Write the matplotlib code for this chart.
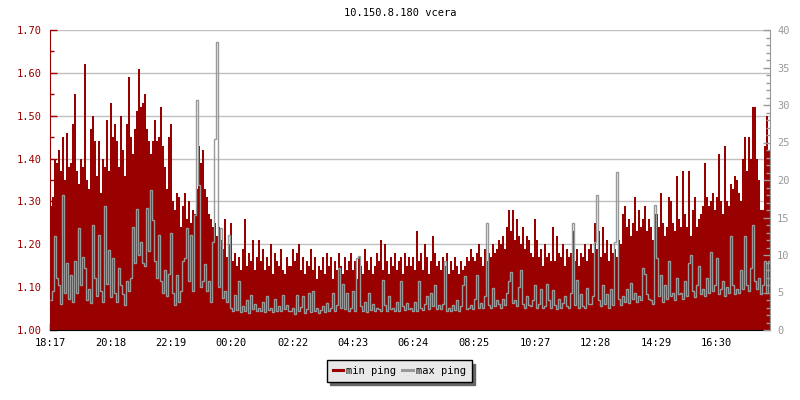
import numpy as np
import matplotlib
matplotlib.use("Agg")
import matplotlib.pyplot as plt
from matplotlib.lines import Line2D
from matplotlib.ticker import MultipleLocator, FormatStrFormatter

# ping samples, one every 4 minutes starting 18:17 (15 per hour)
min_ping = [
    1.29, 1.31, 1.40, 1.39, 1.42, 1.37, 1.45, 1.35, 1.46, 1.38, 1.39, 1.48, 1.55, 1.37, 1.34,
    1.40, 1.38, 1.62, 1.35, 1.33, 1.47, 1.50, 1.44, 1.36, 1.44, 1.32, 1.40, 1.38, 1.49, 1.37,
    1.53, 1.45, 1.48, 1.44, 1.38, 1.50, 1.42, 1.36, 1.48, 1.59, 1.45, 1.41, 1.47, 1.51, 1.61,
    1.52, 1.53, 1.55, 1.47, 1.44, 1.41, 1.44, 1.49, 1.44, 1.45, 1.52, 1.43, 1.38, 1.33, 1.45,
    1.48, 1.30, 1.28, 1.32, 1.31, 1.24, 1.29, 1.32, 1.26, 1.30, 1.25, 1.28, 1.27, 1.33, 1.43,
    1.39, 1.42, 1.33, 1.31, 1.27, 1.26, 1.24, 1.25, 1.22, 1.24, 1.21, 1.19, 1.26, 1.17, 1.20,
    1.25, 1.16, 1.18, 1.15, 1.17, 1.14, 1.19, 1.26, 1.15, 1.18, 1.16, 1.21, 1.14, 1.17, 1.21,
    1.16, 1.19, 1.14, 1.17, 1.15, 1.20, 1.13, 1.18, 1.16, 1.15, 1.19, 1.14, 1.13, 1.17, 1.15,
    1.15, 1.19, 1.16, 1.18, 1.20, 1.14, 1.17, 1.13, 1.16, 1.15, 1.19, 1.14, 1.17, 1.12, 1.15,
    1.14, 1.17, 1.13, 1.18, 1.15, 1.17, 1.12, 1.16, 1.14, 1.18, 1.15, 1.13, 1.17, 1.14, 1.16,
    1.18, 1.14, 1.16, 1.12, 1.17, 1.15, 1.13, 1.19, 1.16, 1.14, 1.17, 1.13, 1.15, 1.18, 1.16,
    1.21, 1.14, 1.20, 1.16, 1.13, 1.17, 1.15, 1.18, 1.14, 1.16, 1.17, 1.13, 1.18, 1.15, 1.17,
    1.15, 1.17, 1.14, 1.23, 1.16, 1.18, 1.14, 1.20, 1.17, 1.13, 1.16, 1.22, 1.18, 1.15, 1.16,
    1.14, 1.17, 1.15, 1.18, 1.13, 1.16, 1.14, 1.17, 1.15, 1.13, 1.16, 1.14, 1.15, 1.17, 1.16,
    1.19, 1.17, 1.16, 1.18, 1.20, 1.17, 1.15, 1.19, 1.16, 1.18, 1.17, 1.20, 1.18, 1.19, 1.21,
    1.20, 1.22, 1.19, 1.24, 1.28, 1.23, 1.28, 1.21, 1.26, 1.22, 1.20, 1.24, 1.19, 1.22, 1.21,
    1.18, 1.17, 1.26, 1.21, 1.17, 1.19, 1.15, 1.20, 1.17, 1.18, 1.16, 1.24, 1.16, 1.22, 1.18,
    1.17, 1.20, 1.15, 1.19, 1.17, 1.18, 1.23, 1.16, 1.19, 1.15, 1.18, 1.17, 1.20, 1.16, 1.19,
    1.20, 1.18, 1.25, 1.19, 1.23, 1.17, 1.24, 1.18, 1.21, 1.16, 1.20, 1.18, 1.19, 1.17, 1.21,
    1.20, 1.27, 1.29, 1.24, 1.26, 1.22, 1.25, 1.31, 1.23, 1.28, 1.24, 1.26, 1.29, 1.23, 1.26,
    1.24, 1.21, 1.27, 1.27, 1.24, 1.32, 1.25, 1.22, 1.24, 1.31, 1.30, 1.25, 1.23, 1.36, 1.26,
    1.24, 1.37, 1.27, 1.24, 1.37, 1.22, 1.28, 1.31, 1.24, 1.26, 1.27, 1.29, 1.39, 1.31, 1.29,
    1.30, 1.32, 1.28, 1.31, 1.41, 1.30, 1.27, 1.43, 1.30, 1.29, 1.34, 1.33, 1.36, 1.35, 1.32,
    1.30, 1.40, 1.45, 1.37, 1.45, 1.40, 1.52, 1.52, 1.40, 1.35, 1.28, 1.28, 1.43, 1.50, 1.42,
]

max_ping = [
    4.0, 5.2, 12.6, 7.0, 6.0, 3.5, 18.0, 5.0, 9.0, 4.2, 7.4, 3.8, 9.2, 5.0, 13.6,
    6.0, 9.8, 8.3, 4.0, 5.5, 3.6, 14.0, 7.0, 4.5, 12.7, 5.2, 3.8, 16.5, 6.2, 10.7,
    4.4, 9.6, 5.0, 3.7, 8.3, 6.0, 4.8, 3.4, 6.5, 5.2, 7.0, 13.8, 9.0, 16.1, 10.0,
    11.8, 9.0, 8.5, 16.3, 10.5, 18.7, 14.7, 9.2, 7.0, 12.7, 6.5, 5.0, 8.0, 4.5, 7.5,
    12.9, 5.0, 3.4, 7.4, 3.8, 5.2, 9.2, 9.6, 13.6, 6.5, 12.7, 5.2, 15.4, 30.7, 19.4,
    5.8, 6.5, 8.8, 5.2, 6.5, 3.8, 11.8, 25.5, 38.4, 5.8, 13.6, 4.3, 5.2, 3.8, 12.7,
    3.0, 2.5, 4.7, 2.7, 6.6, 2.4, 3.2, 2.6, 4.0, 2.3, 4.7, 2.8, 3.5, 2.5, 3.0,
    2.6, 3.8, 2.4, 4.5, 2.7, 3.0, 2.4, 4.2, 2.6, 3.2, 2.5, 4.7, 2.8, 3.4, 2.6,
    2.6, 3.0, 2.2, 4.7, 2.5, 3.1, 4.6, 2.3, 2.8, 4.9, 2.4, 5.2, 2.6, 3.0, 2.3,
    2.7, 3.2, 2.4, 3.6, 2.5, 2.9, 5.0, 2.6, 3.3, 8.3, 3.0, 6.2, 2.8, 5.0, 2.6,
    3.0, 5.2, 2.5, 9.6, 9.9, 3.2, 2.6, 3.8, 2.4, 5.0, 2.7, 3.5, 2.5, 3.0, 2.8,
    2.6, 6.7, 3.4, 2.5, 4.6, 2.8, 3.0, 2.5, 3.8, 2.6, 6.5, 3.2, 2.7, 3.6, 2.8,
    3.0, 2.6, 3.8, 2.5, 6.5, 3.0, 2.7, 3.5, 4.5, 2.8, 5.0, 3.2, 6.0, 2.8, 3.4,
    2.8, 3.5, 9.2, 2.6, 3.0, 2.5, 3.3, 2.7, 4.0, 2.6, 3.2, 6.0, 7.2, 2.8, 3.0,
    3.3, 2.8, 4.2, 7.4, 3.0, 3.6, 2.9, 4.5, 14.3, 3.4, 2.9, 5.6, 3.2, 4.0, 3.5,
    3.0, 4.2, 3.3, 5.0, 6.5, 7.7, 3.6, 4.0, 3.2, 5.8, 8.0, 3.5, 3.0, 4.5, 3.4,
    3.2, 4.0, 6.0, 3.0, 3.5, 5.5, 2.9, 3.2, 6.2, 4.0, 3.0, 5.4, 3.3, 2.8, 4.2,
    3.0, 3.6, 4.5, 3.2, 2.9, 5.0, 14.3, 3.4, 6.7, 3.0, 4.8, 3.2, 2.9, 5.6, 3.5,
    3.5, 4.5, 11.8, 18.0, 4.0, 3.2, 6.0, 3.5, 4.8, 3.0, 5.5, 3.3, 11.8, 21.1, 4.2,
    3.4, 4.6, 3.8, 5.5, 3.6, 6.3, 4.2, 5.0, 3.8, 4.5, 4.0, 8.3, 7.5, 4.8, 4.2,
    4.0, 3.5, 16.7, 9.6, 4.5, 7.4, 3.8, 6.0, 4.2, 9.2, 4.6, 5.0, 4.0, 7.0, 4.8,
    5.0, 4.2, 6.5, 4.6, 8.9, 10.0, 5.2, 4.4, 6.0, 8.5, 4.8, 5.5, 4.5, 7.0, 5.0,
    10.4, 5.2, 6.0, 9.6, 4.8, 5.5, 6.5, 4.6, 5.8, 5.0, 12.6, 6.0, 4.8, 5.5, 5.0,
    8.0, 5.5, 12.6, 6.0, 5.2, 8.3, 14.0, 6.5, 5.5, 7.0, 4.8, 6.0, 9.2, 5.0, 9.2,
]

start_time = "18:17"
step_min = 4
tick_labels = ["18:17", "20:18", "22:19", "00:20", "02:22", "04:23",
               "06:24", "08:25", "10:27", "12:28", "14:29", "16:30"]

RED = "#990000"
GRAY = "#999999"
plt.rcParams["font.family"] = ["DejaVu Sans Mono"]


def minutes_from_start(label):
    h, m = map(int, label.split(":"))
    sh, sm = map(int, start_time.split(":"))
    return ((h * 60 + m) - (sh * 60 + sm)) % 1440


edges = np.arange(len(min_ping) + 1) * step_min

fig = plt.figure(figsize=(8, 4), dpi=100)
ax = fig.add_axes([50 / 800, 70 / 400, 720 / 800, 300 / 400])
ax2 = ax.twinx()

ax.stairs(min_ping, edges, baseline=1.0, fill=True, color=RED, lw=0, zorder=2)
ax2.stairs(max_ping, edges, baseline=None, color=GRAY, lw=1.0)

ax.set_xlim(0, edges[-1])
ax.set_ylim(1.0, 1.7)
ax2.set_ylim(0, 40)

ax.yaxis.set_major_locator(MultipleLocator(0.1))
ax.yaxis.set_minor_locator(MultipleLocator(0.05))
ax.yaxis.set_major_formatter(FormatStrFormatter("%.2f"))
ax.grid(axis="y", color="#c0c0c0", lw=1, zorder=0)
ax.set_axisbelow(True)

ax2.yaxis.set_major_locator(MultipleLocator(5))
ax2.yaxis.set_minor_locator(MultipleLocator(1))

ax.set_xticks([minutes_from_start(t) for t in tick_labels])
ax.set_xticklabels(tick_labels)

ax.tick_params(axis="x", direction="in", length=5, width=1, color="black",
               labelsize=7.5, pad=6)
ax.tick_params(axis="y", which="major", direction="in", length=5, width=1,
               color=RED, labelcolor=RED, labelsize=7.5, pad=6)
ax.tick_params(axis="y", which="minor", direction="in", length=3, width=1, color=RED)
ax2.tick_params(axis="y", which="major", direction="in", length=5, width=1,
                color=GRAY, labelcolor=GRAY, labelsize=7.5, pad=5)
ax2.tick_params(axis="y", which="minor", direction="in", length=3, width=1, color=GRAY)

for a in (ax, ax2):
    a.spines["top"].set_visible(False)
ax.spines["right"].set_visible(False)
ax.spines["left"].set_color(RED)
ax.spines["bottom"].set_color("black")
ax2.spines["left"].set_visible(False)
ax2.spines["bottom"].set_visible(False)
ax2.spines["right"].set_color(GRAY)

fig.text(0.5, 1 - 13 / 400, "10.150.8.180 vcera", ha="center", va="center", fontsize=7.5)

handles = [Line2D([], [], color=RED, lw=2.2), Line2D([], [], color=GRAY, lw=2.2)]
leg = fig.legend(handles, ["min ping", "max ping"], loc="center", ncol=2,
                 bbox_to_anchor=(0.499, 1 - 371 / 400), fontsize=7.5,
                 frameon=True, fancybox=False, handlelength=1.0, handletextpad=0.3,
                 columnspacing=0.6, borderpad=0.55,
                 shadow={"color": "#666666", "alpha": 1, "ox": 2.5, "oy": -2.5})
leg.get_frame().set_edgecolor("black")
leg.get_frame().set_facecolor("#e8e8e8")
leg.get_frame().set_linewidth(1)
leg.get_frame().set_alpha(1)

fig.savefig("out.png", dpi=100)
